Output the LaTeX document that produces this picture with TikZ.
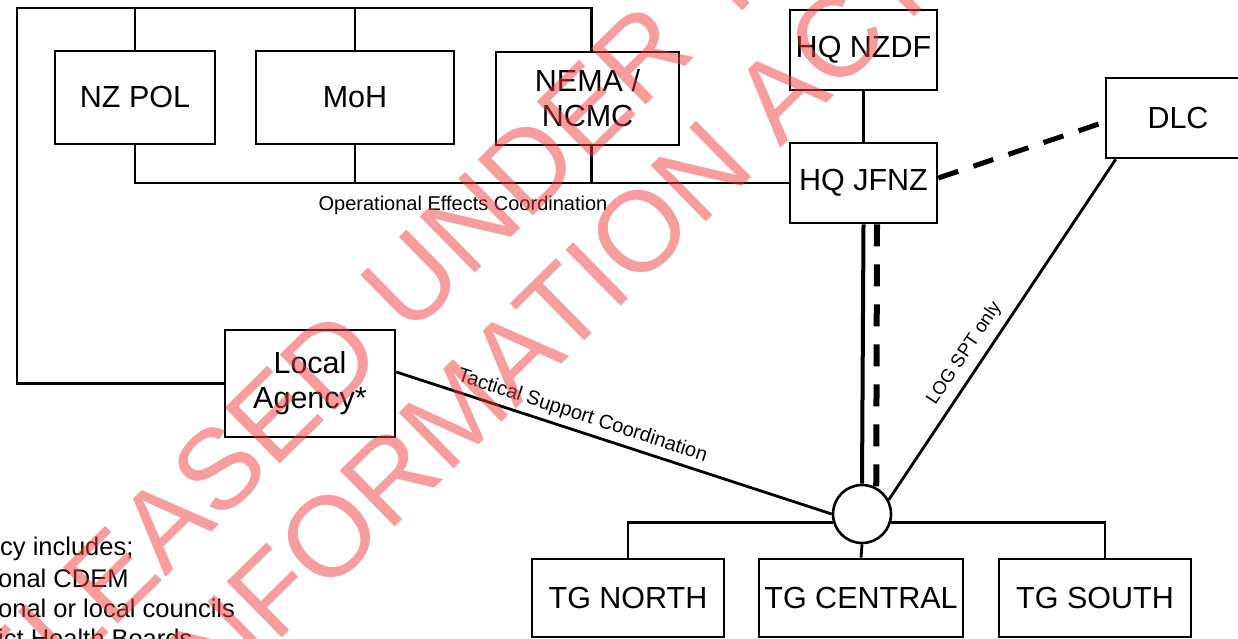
\documentclass[tikz,border=0pt]{standalone}
\usepackage{fontspec}
\setmainfont{Liberation Sans}
\definecolor{wmred}{RGB}{240,60,60}
\begin{document}
\begin{tikzpicture}[x=1pt,y=-1pt,
  box/.style={draw, line width=2.6pt, inner sep=0pt, align=center, fill=white,
    font=\fontsize{30.5}{35}\selectfont},
  conn/.style={line width=2.8pt},
  lbl/.style={font=\fontsize{20}{23}\selectfont},
  note/.style={font=\fontsize{25.5}{30}\selectfont, inner sep=0pt},
  wm/.style={font=\fontsize{114}{114}\selectfont, text=wmred, text opacity=0.5, inner sep=0pt}]
\useasboundingbox (0,0) rectangle (1238,639);
\clip (0,0) rectangle (1238,639);
\fill[white] (0,0) rectangle (1238,639);
% boxes
\node[box, minimum width=160pt, minimum height=93pt] (nzpol) at (135,97.5) {NZ POL};
\node[box, minimum width=198pt, minimum height=93pt] (moh) at (355,97.5) {MoH};
\node[box, minimum width=183pt, minimum height=93pt] (nema) at (587.5,98.5) {NEMA /\\NCMC};
\node[box, minimum width=147pt, minimum height=80pt] (nzdf) at (863.5,50) {HQ NZDF};
\node[box, minimum width=147pt, minimum height=80pt] (jfnz) at (863.5,183) {HQ JFNZ};
\node[box, minimum width=144pt, minimum height=80pt] (dlc) at (1178,118) {DLC};
\node[box, minimum width=170pt, minimum height=107pt] (local) at (310,383.5) {Local\\Agency*};
\node[box, minimum width=192pt, minimum height=78pt] (tgn) at (628,598) {TG NORTH};
\node[box, minimum width=204pt, minimum height=78pt] (tgc) at (861,598) {TG CENTRAL};
\node[box, minimum width=192pt, minimum height=78pt] (tgs) at (1095,598) {TG SOUTH};
\node[draw, circle, line width=2.6pt, minimum size=58pt, inner sep=0pt, fill=white] (hub) at (862,514) {};
% top frame
\coordinate (tl) at (17,8);
\draw[conn] (local.west) -| (tl) -| ([xshift=4pt]nema.north);
\draw[conn] (nzpol.north) -- (nzpol.north |- tl);
\draw[conn] (moh.north) -- (moh.north |- tl);
% operational bus
\draw[conn] (nzpol.south) |- (jfnz.west);
\draw[conn] (moh.south) -- (moh.south |- jfnz.west);
\draw[conn] ([xshift=4pt]nema.south) -- ([xshift=4pt]nema.south |- jfnz.west);
\node[lbl] (ops) at (463,205) {Operational Effects Coordination};
\draw[conn] (nzdf) -- (jfnz);
\draw[line width=5pt, dash pattern=on 21pt off 16pt] ([yshift=5pt]jfnz.east) -- ([yshift=-4pt]dlc.west);
% to hub
\draw[line width=4pt] (jfnz.south) -- (hub.north);
\draw[line width=6pt, dash pattern=on 22pt off 18pt] ([xshift=13.5pt]jfnz.south) -- (hub.62);
\draw[conn] ([xshift=11pt]dlc.south west) -- (hub.28)
  node[lbl, font=\fontsize{18.5}{22}\selectfont, pos=0.6, sloped, above, inner sep=8pt] (logl) {LOG SPT only};
\draw[conn] ([yshift=11.5pt]local.east) -- (hub.west)
  node[lbl, pos=0.416, sloped, above, inner sep=5pt] (tacl) {Tactical Support Coordination};
% TG bus
\draw[conn] (tgn.north) |- (hub.196);
\draw[conn] ([xshift=10pt]tgs.north) |- (hub.-16);
\draw[conn] (hub.south) -- (tgc.north);
% note
\node[note, anchor=base west] (n1) at (0,555) {cy includes;};
\node[note, anchor=base west] (n2) at (-2,587) {onal CDEM};
\node[note, anchor=base west] (n3) at (-2,617) {onal or local councils};
\node[note, anchor=base west] (n4) at (-2,647) {ict Health Boards};
% watermark
\node[wm, anchor=base east, rotate=44.5] (wm2) at (943,-11) {OFFICIAL INFORMATION ACT};
\node[wm, anchor=base west, rotate=44.5] (wm1) at (-47,786) {RELEASED UNDER THE};
\end{tikzpicture}
\end{document}
